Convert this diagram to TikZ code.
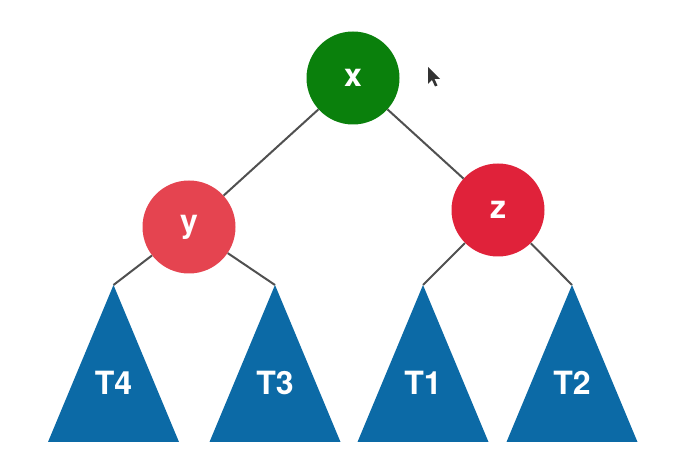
\documentclass[tikz,border=0pt]{standalone}
\usepackage{fontspec}
\setsansfont{TeX Gyre Heros}
\definecolor{xgreen}{RGB}{10,128,12}
\definecolor{yred}{RGB}{229,68,80}
\definecolor{zred}{RGB}{224,34,58}
\definecolor{tblue}{RGB}{12,106,166}
\definecolor{linegray}{RGB}{80,80,80}

\begin{document}
\begin{tikzpicture}[x=1pt,y=1pt,
    vertex/.style={circle, minimum size=93pt, inner sep=0pt, text=white,
      font=\sffamily\bfseries\fontsize{32}{38}\selectfont},
    treelabel/.style={inner sep=0pt, text=white,
      font=\sffamily\bfseries\fontsize{32}{38}\selectfont},
    link/.style={draw=linegray, line width=2pt}]
\useasboundingbox (0,0) rectangle (681,476);
    \node[vertex, fill=xgreen] (x) at (353,398) {x};
    \node[vertex, fill=yred] (y) at (189,249) {y};
    \node[vertex, fill=zred] (z) at (498,266) {z};
    % apex of every subtree
    \foreach \name/\cx in {T4/113.5, T3/275, T1/423, T2/572}
      \coordinate (\name-apex) at (\cx,191);
\begin{scope}[link]
    \draw (x) -- (y);
    \draw (x) -- (z);
    \draw (y) -- (T4-apex);
    \draw (y) -- (T3-apex);
    \draw (z) -- (T1-apex);
    \draw (z) -- (T2-apex);
\end{scope}
    % subtrees
    \foreach \name/\cx in {T4/113.5, T3/275, T1/423, T2/572} {
      \fill[tblue] (\name-apex) -- (\cx+65.5,34) -- (\cx-65.5,34) -- cycle;
      \node[treelabel] (\name) at (\cx,93) {\name};
    }
    % mouse pointer
    \fill[black!80] (428,409) -- (428,392) -- (432,396) -- (435,389.5)
      -- (437.5,390.5) -- (434.5,397) -- (440,397) -- cycle;
\end{tikzpicture}
\end{document}
